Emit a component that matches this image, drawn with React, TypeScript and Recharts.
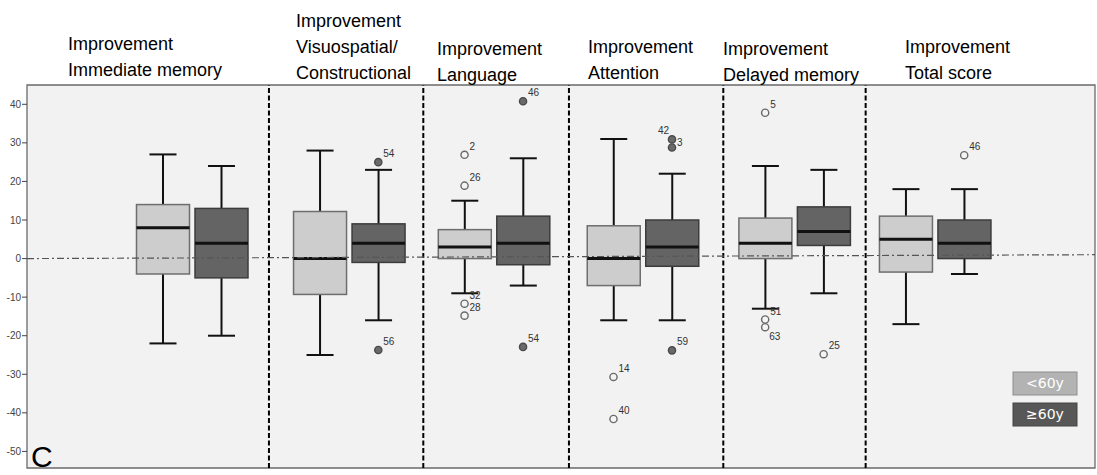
import { ComposedChart, Bar, Scatter, XAxis, YAxis, CartesianGrid, ReferenceLine, ReferenceArea } from 'recharts';

// six domains of the cognitive test, two age groups each
const categories = ['Immediate memory', 'Visuospatial/ Constructional', 'Language', 'Attention', 'Delayed memory', 'Total score'];
const titleLines = [
  ['Improvement', 'Immediate memory'],
  ['Improvement', 'Visuospatial/', 'Constructional'],
  ['Improvement', 'Language'],
  ['Improvement', 'Attention'],
  ['Improvement', 'Delayed memory'],
  ['Improvement', 'Total score'],
];
const seriesNames = ['<60y', '≥60y'];
const groupPos = [1.1, 2.147, 3.112, 4.105, 5.116, 6.053];
const dividerPos = [1.613, 2.642, 3.613, 4.642, 5.591];
const yTicks = [-50, -40, -30, -20, -10, 0, 10, 20, 30, 40];

// [min, q1, median, q3, max]
const under60 = [
  [-22, -4, 8, 14, 27],
  [-25, -9.3, 0, 12.2, 28],
  [-9, 0, 3, 7.5, 15],
  [-16, -7, 0, 8.5, 31],
  [-13, 0, 4, 10.5, 24],
  [-17, -3.5, 5, 11, 18],
];
const over60 = [
  [-20, -5, 4, 13, 24],
  [-16, -1, 4, 9, 23],
  [-7, -1.6, 4, 11, 26],
  [-16, -2, 3, 10, 22],
  [-9, 3.4, 7, 13.4, 23],
  [-4, 0, 4, 10, 18],
];

// outliers: group index, value, case label, filled marker
const outliersUnder60 = [
  { group: 2, value: 26.9, label: '2', filled: false },
  { group: 2, value: 18.9, label: '26', filled: false },
  { group: 2, value: -11.7, label: '32', filled: false },
  { group: 2, value: -14.8, label: '28', filled: false },
  { group: 3, value: -30.7, label: '14', filled: false },
  { group: 3, value: -41.6, label: '40', filled: false },
  { group: 4, value: 37.8, label: '5', filled: false },
  { group: 4, value: -15.8, label: '51', filled: false },
  { group: 4, value: -17.8, label: '63', filled: false },
];
const outliersOver60 = [
  { group: 1, value: 25, label: '54', filled: true },
  { group: 1, value: -23.7, label: '56', filled: true },
  { group: 2, value: 40.8, label: '46', filled: true },
  { group: 2, value: -22.9, label: '54', filled: true },
  { group: 3, value: 30.9, label: '42', filled: true },
  { group: 3, value: 28.8, label: '3', filled: true },
  { group: 3, value: -23.8, label: '59', filled: true },
  { group: 4, value: -24.8, label: '25', filled: false },
  { group: 5, value: 26.8, label: '46', filled: false },
];

const W = 1097;
const H = 475;
const X_DOMAIN: [number, number] = [0, 7.12];
const Y_DOMAIN: [number, number] = [-54.3, 45];
const HALF = 0.195;
const FONT = '"Liberation Sans", Arial, sans-serif';

const boxFill = ['#cdcdcd', '#646464'];
const boxStroke = ['#6e6e6e', '#3c3c3c'];

// title placement (left x, baseline of last line)
const titleX = [68, 296, 437, 588, 723, 905];
const titleBase = [76, 79, 81, 79, 81, 79];

// label nudges for the case numbers, keyed group-label
const labelNudge: Record<string, { dx: number; dy: number; anchor?: string }> = {
  '3-42': { dx: -3, dy: -5, anchor: 'end' },
  '3-3': { dx: 5, dy: -1 },
  '4-63': { dx: 4, dy: 13 },
};

const boxes = [under60, over60].flatMap((ser, s) =>
  ser.map((st, g) => ({
    x: groupPos[g] + (s === 0 ? -HALF : HALF),
    series: s,
    cat: categories[g],
    stats: st,
    box: [st[1], st[3]],
  })),
);
const boxTicks = boxes.map((b) => b.x).sort((a, b) => a - b);

const outliers = [outliersUnder60, outliersOver60].flatMap((ser, s) =>
  ser.map((o) => ({ ...o, x: groupPos[o.group] + (s === 0 ? -HALF : HALF), y: o.value })),
);

function BoxShape(props: any) {
  const { x, y, width, height, payload } = props;
  if (!payload || !payload.stats) return <g />;
  const [mn, q1, med, q3, mx] = payload.stats;
  const top = Math.min(y, y + height);
  const h = Math.abs(height);
  const k = h / (q3 - q1);
  const yOf = (v: number) => top + (q3 - v) * k;
  const cx = x + width / 2;
  const cap = 13.5;
  const s = payload.series;
  return (
    <g>
      <line x1={cx} x2={cx} y1={yOf(mx)} y2={top} stroke="#111" strokeWidth={2} />
      <line x1={cx} x2={cx} y1={top + h} y2={yOf(mn)} stroke="#111" strokeWidth={2} />
      <line x1={cx - cap} x2={cx + cap} y1={yOf(mx)} y2={yOf(mx)} stroke="#111" strokeWidth={2} />
      <line x1={cx - cap} x2={cx + cap} y1={yOf(mn)} y2={yOf(mn)} stroke="#111" strokeWidth={2} />
      <rect x={x} y={top} width={width} height={h} fill={boxFill[s]} stroke={boxStroke[s]} strokeWidth={1.5} />
      <line x1={x} x2={x + width} y1={yOf(med)} y2={yOf(med)} stroke="#111" strokeWidth={3} />
    </g>
  );
}

function OutlierShape(props: any) {
  const { cx, cy, payload } = props;
  if (!payload) return <g />;
  const n = labelNudge[`${payload.group}-${payload.label}`] || { dx: 5, dy: -5 };
  return (
    <g>
      <circle cx={cx} cy={cy} r={3.6}
        fill={payload.filled ? '#6a6a6a' : '#f4f4f4'}
        stroke={payload.filled ? '#4a4a4a' : '#6a6a6a'} strokeWidth={1.4} />
      <text x={cx + n.dx} y={cy + n.dy} fontSize={10} fontFamily={FONT} fill="#333"
        textAnchor={(n.anchor as any) || 'start'}>{payload.label}</text>
    </g>
  );
}

export default function App() {
  return (
    <div style={{ position: 'absolute', left: 0, top: 0, width: W, height: H, background: '#fff' }}>
      <ComposedChart width={W} height={H} data={boxes} margin={{ top: 85, right: 2, bottom: 0, left: 0 }}>
        <CartesianGrid horizontal={false} vertical={false} fill="#f2f2f2" />
        <XAxis type="number" dataKey="x" domain={X_DOMAIN} ticks={boxTicks} tick={false}
          tickSize={6} height={7} axisLine={false} tickLine={{ stroke: '#333' }} allowDataOverflow />
        <YAxis type="number" domain={Y_DOMAIN} ticks={yTicks} width={27} tickSize={5} tickMargin={1}
          axisLine={false} tickLine={{ stroke: '#444' }} allowDataOverflow
          tick={{ fontSize: 10, fill: '#444', fontFamily: FONT }} />
        {dividerPos.map((d) => (
          <ReferenceLine key={d} x={d} stroke="#000" strokeWidth={2} strokeDasharray="5 2.5" />
        ))}
        <Bar dataKey="box" barSize={53} shape={BoxShape} isAnimationActive={false} />
        <ReferenceLine segment={[{ x: X_DOMAIN[0], y: 0 }, { x: X_DOMAIN[1], y: 1 }]}
          stroke="#555" strokeWidth={1.2} strokeDasharray="7 3 2 3" />
        <Scatter data={outliers} dataKey="y" shape={OutlierShape} isAnimationActive={false} />
        <ReferenceArea x1={X_DOMAIN[0]} x2={X_DOMAIN[1]} y1={Y_DOMAIN[0]} y2={Y_DOMAIN[1]}
          fill="none" stroke="#6a6a6a" strokeWidth={1.3} />
      </ComposedChart>
      <svg width={W} height={H} style={{ position: 'absolute', left: 0, top: 0, pointerEvents: 'none' }}>
        {titleLines.map((lines, i) => (
          <text key={i} x={titleX[i]} fontSize={18} fontFamily={FONT} fill="#000">
            {lines.map((ln, j) => (
              <tspan key={j} x={titleX[i]} y={titleBase[i] - (lines.length - 1 - j) * 26}>{ln}</tspan>
            ))}
          </text>
        ))}
        <text x={31} y={467} fontSize={30} fontFamily={FONT} fill="#000">C</text>
        {seriesNames.map((nm, i) => (
          <g key={nm}>
            <rect x={1013} y={372 + i * 31} width={64} height={23}
              fill={i === 0 ? '#b3b3b3' : '#575757'} stroke={i === 0 ? '#8e8e8e' : '#444'} strokeWidth={1} />
            <text x={1045} y={388 + i * 31} fontSize={14} fontFamily='"DejaVu Sans", Verdana, sans-serif'
              fill="#fff" textAnchor="middle">{nm}</text>
          </g>
        ))}
      </svg>
    </div>
  );
}
